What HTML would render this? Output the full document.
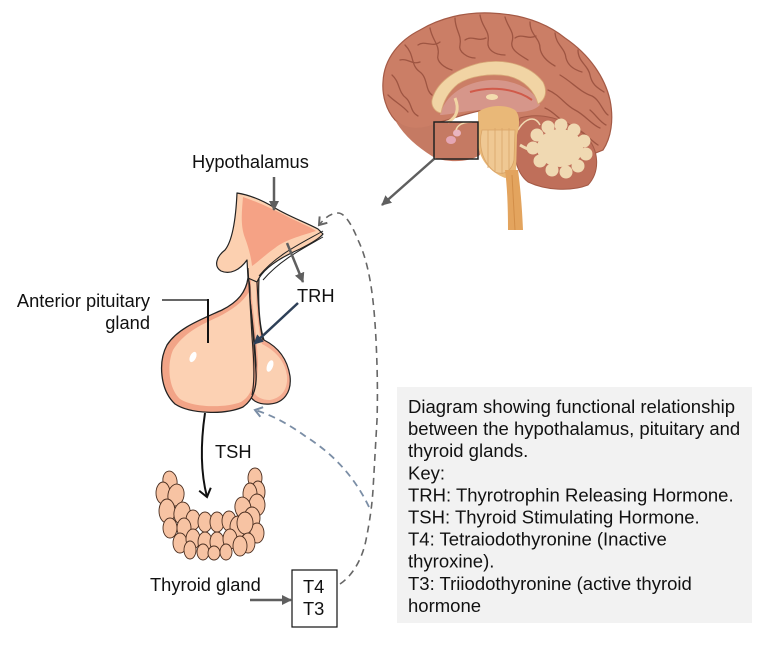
<!DOCTYPE html>
<html><head><meta charset="utf-8">
<style>
html,body{margin:0;padding:0;background:#fff;}
svg{display:block;}
text{font-family:"Liberation Sans",Arial,sans-serif;font-size:18.3px;fill:#111;}
text.k{font-size:18.5px;}
</style></head>
<body>
<svg width="760" height="646" viewBox="0 0 760 646" xmlns="http://www.w3.org/2000/svg">
<defs>
  <marker id="tri" markerWidth="12" markerHeight="12" refX="9" refY="6" orient="auto" markerUnits="userSpaceOnUse">
    <path d="M0,1 L10,6 L0,11 Z" fill="#5f5f5f"/>
  </marker>
  <marker id="triN" markerWidth="12" markerHeight="12" refX="9" refY="6" orient="auto" markerUnits="userSpaceOnUse">
    <path d="M0,1 L10,6 L0,11 Z" fill="#2e4058"/>
  </marker>
  <marker id="chevG" markerWidth="14" markerHeight="14" refX="9" refY="7" orient="auto" markerUnits="userSpaceOnUse">
    <path d="M2,2 L9,7 L2,12" fill="none" stroke="#666" stroke-width="2"/>
  </marker>
  <marker id="chevB" markerWidth="14" markerHeight="14" refX="9" refY="7" orient="auto" markerUnits="userSpaceOnUse">
    <path d="M2,2 L9,7 L2,12" fill="none" stroke="#7b8ea6" stroke-width="2"/>
  </marker>
  <marker id="chevK" markerWidth="14" markerHeight="14" refX="9" refY="7" orient="auto" markerUnits="userSpaceOnUse">
    <path d="M1,1 L9,7 L1,13" fill="none" stroke="#111" stroke-width="2"/>
  </marker>
</defs>

<!-- ===== BRAIN ===== -->
<g>
  <path d="M383,82 C384,58 400,40 420,30 C440,18 465,12 490,13 C520,14 545,22 565,38 C590,55 605,78 610,100 C614,120 611,138 603,150 L583,158 C560,150 535,140 520,125 L485,110 C470,112 455,118 440,122 L434,128 C420,134 405,130 395,120 C386,110 382,95 383,82 Z" fill="#cb7e66" stroke="#a45a46" stroke-width="1.2"/>
  <path d="M395,120 C410,132 425,128 440,122 L478,122 L480,155 C470,162 450,163 435,158 C422,150 405,138 395,120 Z" fill="#c57a63"/>
  <g fill="none" stroke="#9e5542" stroke-width="1.3" stroke-linecap="round">
    <path d="M405,45 C415,55 410,65 420,72 C428,78 425,90 432,95"/>
    <path d="M430,28 C432,40 440,45 438,55 C436,62 445,68 452,70"/>
    <path d="M455,18 C455,30 462,35 460,45 C458,52 468,58 475,58"/>
    <path d="M480,15 C482,28 490,30 488,42 C487,50 495,55 505,55"/>
    <path d="M505,17 C508,28 515,32 512,42 C510,50 520,55 528,60"/>
    <path d="M530,22 C530,35 540,38 540,48 C541,56 548,62 555,66"/>
    <path d="M555,33 C556,45 565,48 566,58 C568,66 575,70 582,72"/>
    <path d="M578,50 C578,62 588,65 590,75 C592,85 598,88 604,92"/>
    <path d="M560,75 C572,82 580,92 592,96 C600,100 603,112 608,115"/>
    <path d="M548,90 C560,95 565,105 575,110 C585,115 592,125 600,128"/>
    <path d="M545,108 C555,112 560,122 575,128 C585,132 590,140 598,145"/>
    <path d="M392,75 C400,82 398,92 406,98 C412,103 410,112 418,116"/>
    <path d="M388,95 C395,102 402,105 408,112"/>
    <path d="M418,45 C425,40 432,48 440,42"/>
    <path d="M465,40 C472,35 478,42 486,38"/>
    <path d="M515,38 C522,33 528,40 536,36"/>
    <path d="M400,60 C408,58 412,65 420,62"/>
    <path d="M590,110 C596,115 600,122 606,125"/>
  </g>
  <path d="M440,115 C445,95 465,82 490,80 C515,79 535,90 540,105 C530,115 510,112 485,110 C465,110 450,115 440,115 Z" fill="#d6968a"/>
  <path d="M470,92 C490,86 515,88 532,100" fill="none" stroke="#d05a4a" stroke-width="2"/>
  <path d="M432,100 C436,84 452,70 480,63 C505,58 530,65 543,82 C548,92 545,100 538,104 C535,92 525,80 508,76 C490,73 470,76 458,84 C448,92 443,102 441,113 C435,112 431,106 432,100 Z" fill="#f1d4a4" stroke="#d8a878" stroke-width="0.8"/>
  <ellipse cx="492" cy="97" rx="6" ry="3" fill="#f3dcae"/>
  <path d="M455,98 C460,110 456,118 448,122" fill="none" stroke="#f1d4a4" stroke-width="3"/>
  <!-- cerebellum -->
  <path d="M520,118 C540,112 565,118 585,135 C600,150 600,172 588,185 C570,192 545,190 528,182 C515,172 512,150 515,132 Z" fill="#bf6f5a" stroke="#a45a46" stroke-width="1"/>
  <g fill="#f0d9b2">
    <ellipse cx="560" cy="148" rx="23" ry="19"/>
    <circle cx="537" cy="135" r="6.5"/><circle cx="548" cy="127" r="6.5"/><circle cx="561" cy="125" r="6.5"/>
    <circle cx="574" cy="130" r="6.5"/><circle cx="584" cy="141" r="6.5"/><circle cx="586" cy="154" r="6.5"/>
    <circle cx="578" cy="166" r="6.5"/><circle cx="566" cy="172" r="6.5"/><circle cx="552" cy="170" r="6.5"/>
    <circle cx="540" cy="161" r="6.5"/><circle cx="533" cy="148" r="6.5"/>
  </g>
  <path d="M545,150 C535,152 528,150 520,145" fill="none" stroke="#f0d9b2" stroke-width="3"/>
  <path d="M518,130 C525,118 535,115 540,125" fill="none" stroke="#f0d9b2" stroke-width="1.5"/>
  <!-- brainstem -->
  <path d="M478,112 C488,105 505,104 515,110 C520,115 520,125 517,135 L516,175 L505,178 C490,172 480,160 478,145 Z" fill="#e9b878"/>
  <path d="M482,130 C478,145 482,162 495,172 C505,176 512,170 514,160 L515,130 Z" fill="#efc893" stroke="#d9a468" stroke-width="0.8"/>
  <g stroke="#d9a468" stroke-width="0.8">
    <line x1="488" y1="130" x2="488" y2="168"/><line x1="495" y1="128" x2="495" y2="172"/>
    <line x1="502" y1="128" x2="502" y2="174"/><line x1="509" y1="128" x2="509" y2="172"/>
  </g>
  <path d="M505,170 L518,170 C520,185 522,205 523,230 L508,230 C508,205 507,185 505,170 Z" fill="#e3a45e"/>
  <path d="M512,175 L515,230" stroke="#d28e48" stroke-width="1"/>
  <ellipse cx="451" cy="140" rx="5" ry="4" fill="#e4a6b4"/>
  <ellipse cx="457" cy="133" rx="4" ry="3.5" fill="#e9b5c0"/>
  <path d="M456,130 C458,124 465,122 472,122" fill="none" stroke="#f3dcae" stroke-width="1.5"/>
  <rect x="434" y="122" width="44" height="37" fill="none" stroke="#222" stroke-width="1.5"/>
  <line x1="434" y1="159" x2="382" y2="205" stroke="#5f5f5f" stroke-width="2.5" marker-end="url(#tri)"/>
</g>

<!-- ===== PITUITARY ===== -->
<g stroke-linejoin="round">
  <path d="M248,266 L259,278 C258,300 259,325 264,340 C276,346 287,357 290,376 C292,393 283,403 270,404 C258,405 250,400 249,392 C253,384 256,375 256,365 C255,340 251,310 249,290 Z" fill="#f4ab90" stroke="#222" stroke-width="1.2"/>
  <path d="M251,280 L256,282 C256,305 258,330 262,344 C274,350 285,360 287,376 C288,390 281,398 270,400 C262,400 256,397 254,392 C257,384 258,372 258,362 C257,340 253,310 251,290 Z" fill="#fbd0b2"/>
  <path d="M248,278 C246,292 238,302 222,310 C200,320 178,328 167,345 C158,362 160,390 175,404 C190,414 225,415 243,407 C253,400 257,388 256,372 C255,355 252,320 250,300 C250,290 250,283 248,278 Z" fill="#f2a487" stroke="#222" stroke-width="1.3"/>
  <path d="M249,292 C243,302 232,310 218,317 C198,326 183,334 173,350 C167,364 168,388 180,399 C194,408 226,408 241,402 C251,396 254,386 253,372 C252,350 251,320 249,292 Z" fill="#fcd1b3"/>
  <ellipse cx="193" cy="357" rx="3" ry="5.5" transform="rotate(25 193 357)" fill="#fff"/>
  <ellipse cx="270" cy="366" rx="3" ry="6" transform="rotate(20 270 366)" fill="#fff"/>
  <path d="M237,193 C236,215 233,240 225,250 C217,256 213,266 221,271 C230,275 240,270 247,260 L248,278 L257,282 C262,270 277,259 300,249 C312,243 320,238 323,234 L318,229 C305,222 290,217 275,208 C262,200 250,195 237,193 Z" fill="#fcd0b0" stroke="#222" stroke-width="1.2"/>
  <path d="M243,197 C258,202 275,210 290,218 C303,224 312,228 316,231 C300,236 285,240 275,248 C265,255 258,262 252,266 C251,256 248,246 245,238 C240,225 242,210 243,197 Z" fill="#f5a285"/>
  <path d="M323,231 C300,244 276,255 259,276" fill="none" stroke="#222" stroke-width="1"/>
  <path d="M323,237 C302,249 280,260 263,280" fill="none" stroke="#222" stroke-width="1"/>
  <path d="M248,268 C249,285 250,305 252,337 C254,360 255,380 252,395" fill="none" stroke="#222" stroke-width="1.1"/>
  <path d="M257,282 C258,300 259,325 263,340" fill="none" stroke="#222" stroke-width="1.1"/>
</g>

<!-- ===== THYROID ===== -->
<g fill="#f7c3a3" stroke="#4a2e20" stroke-width="0.9">
  <ellipse cx="170" cy="481" rx="7" ry="10" transform="rotate(-10 170 481)"/>
  <ellipse cx="255" cy="478" rx="7" ry="10"/>
  <ellipse cx="163" cy="493" rx="7" ry="11"/>
  <ellipse cx="258" cy="492" rx="7" ry="11"/>
  <ellipse cx="176" cy="495" rx="8" ry="11" transform="rotate(10 176 495)"/>
  <ellipse cx="250" cy="494" rx="7" ry="11"/>
  <ellipse cx="257" cy="505" rx="8" ry="11"/>
  <ellipse cx="243" cy="508" rx="8" ry="11" transform="rotate(-10 243 508)"/>
  <ellipse cx="167" cy="511" rx="8" ry="12"/>
  <ellipse cx="182" cy="513" rx="8" ry="11" transform="rotate(10 182 513)"/>
  <ellipse cx="252" cy="518" rx="8" ry="11"/>
  <ellipse cx="193" cy="520" rx="7" ry="10"/>
  <ellipse cx="205" cy="522" rx="7" ry="10"/>
  <ellipse cx="217" cy="522" rx="7" ry="10"/>
  <ellipse cx="229" cy="521" rx="7" ry="10"/>
  <ellipse cx="170" cy="528" rx="7" ry="10"/>
  <ellipse cx="184" cy="528" rx="7" ry="10"/>
  <ellipse cx="238" cy="527" rx="8" ry="11"/>
  <ellipse cx="257" cy="533" rx="7" ry="10"/>
  <ellipse cx="245" cy="523" rx="8" ry="11"/>
  <ellipse cx="180" cy="543" rx="7" ry="10"/>
  <ellipse cx="193" cy="539" rx="7" ry="10"/>
  <ellipse cx="205" cy="542" rx="7" ry="10"/>
  <ellipse cx="217" cy="542" rx="7" ry="10"/>
  <ellipse cx="230" cy="539" rx="7" ry="10"/>
  <ellipse cx="248" cy="543" rx="7" ry="10"/>
  <ellipse cx="240" cy="546" rx="7" ry="10"/>
  <ellipse cx="190" cy="550" rx="6" ry="9"/>
  <ellipse cx="203" cy="552" rx="6" ry="8"/>
  <ellipse cx="214" cy="553" rx="6" ry="7"/>
  <ellipse cx="226" cy="552" rx="6" ry="8"/>
</g>

<!-- ===== CONNECTORS ===== -->
<line x1="274" y1="177" x2="274" y2="210" stroke="#5f5f5f" stroke-width="2.5" marker-end="url(#tri)"/>
<line x1="287" y1="243" x2="303" y2="282" stroke="#5f5f5f" stroke-width="2.5" marker-end="url(#tri)"/>
<line x1="298" y1="303" x2="254" y2="344" stroke="#2e4058" stroke-width="2.5" marker-end="url(#triN)"/>
<line x1="162" y1="300" x2="208" y2="300" stroke="#666" stroke-width="2"/>
<line x1="208" y1="299" x2="208" y2="343" stroke="#111" stroke-width="2"/>
<path d="M205,413 C201,440 200,470 207,497" fill="none" stroke="#111" stroke-width="2" marker-end="url(#chevK)"/>
<line x1="250" y1="600" x2="291" y2="600" stroke="#5f5f5f" stroke-width="2.5" marker-end="url(#tri)"/>
<path d="M340,584 C352,576 362,560 366,540 C370,520 372,505 373,490 L377,420 C378,390 377,360 376,340 C374,300 370,265 358,240 C352,225 345,213 338,213 C330,213 324,219 319,225" fill="none" stroke="#666" stroke-width="1.6" stroke-dasharray="7,5" marker-end="url(#chevG)"/>
<path d="M369,507 C355,478 335,455 305,436 C290,425 272,415 255,410" fill="none" stroke="#7b8ea6" stroke-width="1.8" stroke-dasharray="7,5" marker-end="url(#chevB)"/>

<rect x="292" y="570" width="45" height="57" fill="#fff" stroke="#111" stroke-width="1.2"/>

<!-- ===== KEY BOX ===== -->
<rect x="397" y="387" width="355" height="236" fill="#f2f2f2"/>

<!-- ===== TEXT ===== -->
<text x="192" y="168">Hypothalamus</text>
<text x="297" y="302">TRH</text>
<text x="150" y="307" text-anchor="end">Anterior pituitary</text>
<text x="150" y="329" text-anchor="end">gland</text>
<text x="215" y="458">TSH</text>
<text x="150" y="591">Thyroid gland</text>
<text x="303" y="593">T4</text>
<text x="303" y="615">T3</text>

<text class="k" x="408" y="413">Diagram showing functional relationship</text>
<text class="k" x="408" y="435.1">between the hypothalamus, pituitary and</text>
<text class="k" x="408" y="457.2">thyroid glands.</text>
<text class="k" x="408" y="479.3">Key:</text>
<text class="k" x="408" y="501.4">TRH: Thyrotrophin Releasing Hormone.</text>
<text class="k" x="408" y="523.5">TSH: Thyroid Stimulating Hormone.</text>
<text class="k" x="408" y="545.6">T4: Tetraiodothyronine (Inactive</text>
<text class="k" x="408" y="567.7">thyroxine).</text>
<text class="k" x="408" y="589.8">T3: Triiodothyronine (active thyroid</text>
<text class="k" x="408" y="612">hormone</text>
</svg>
</body></html>
